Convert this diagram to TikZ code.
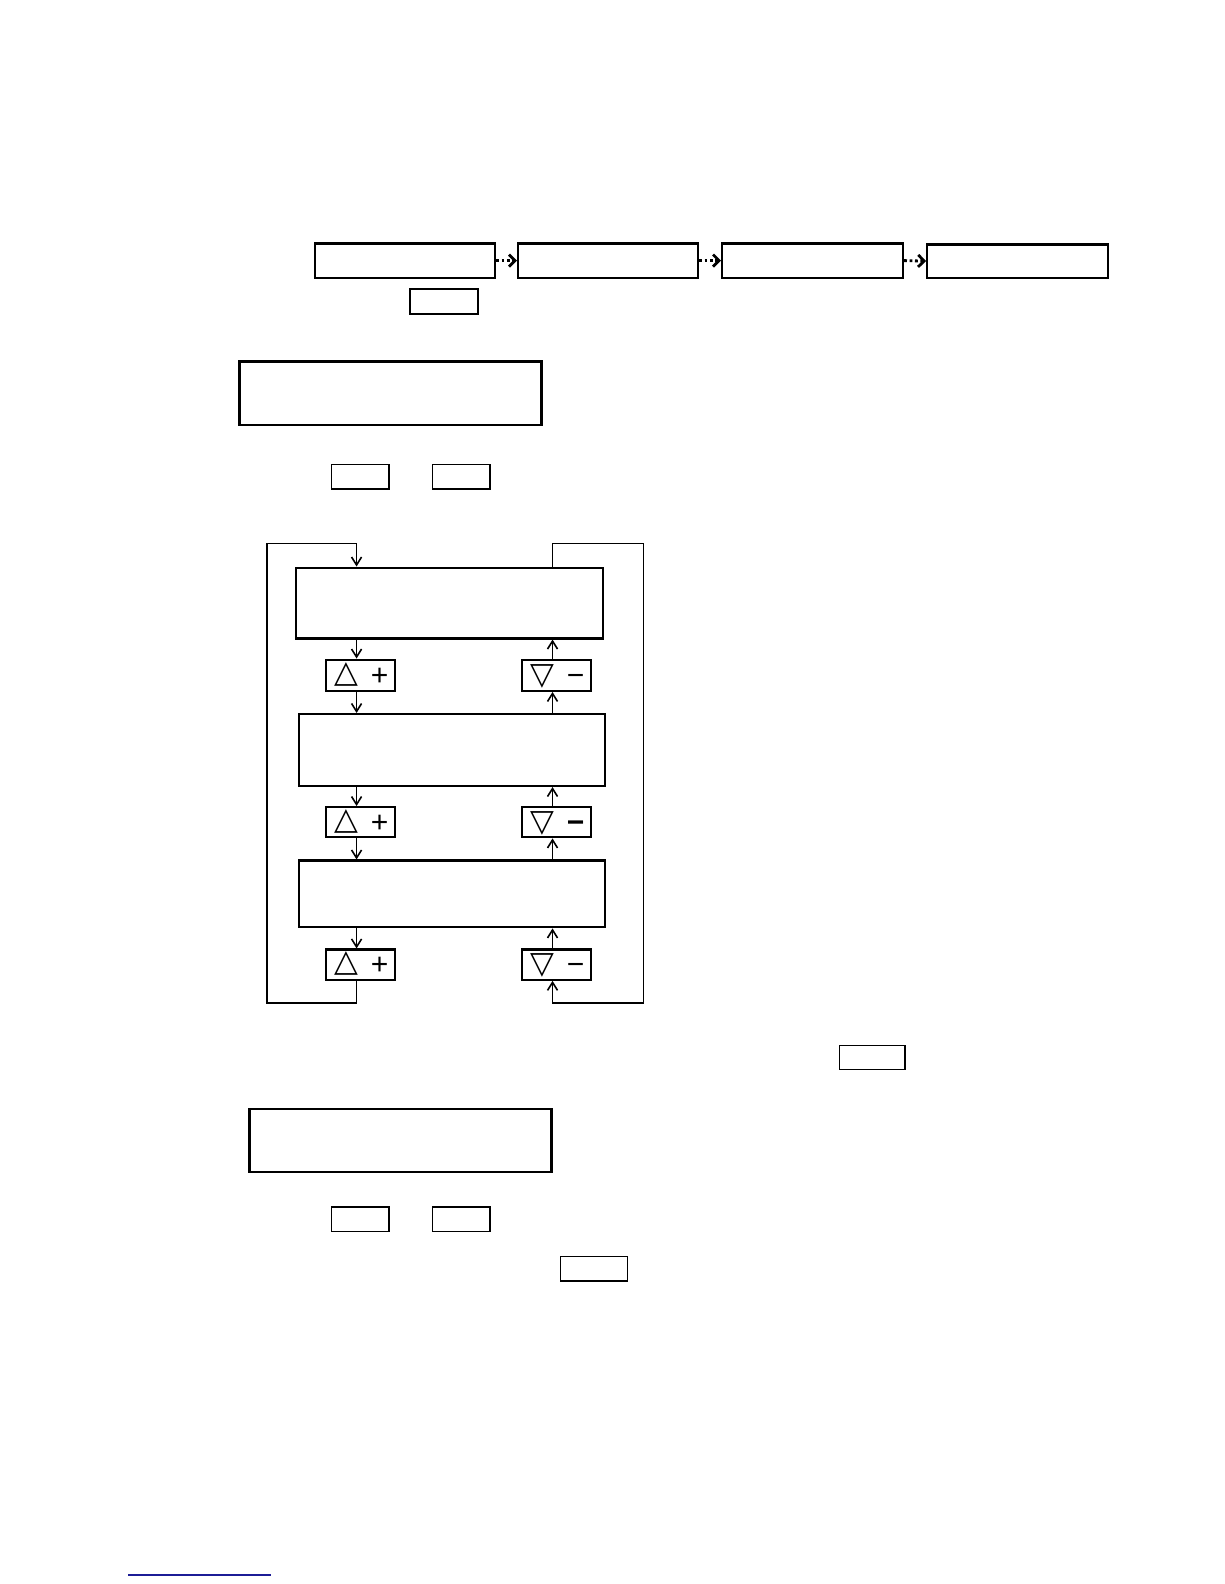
\documentclass[tikz,border=0pt]{standalone}
\usepackage{fontspec}
\newfontfamily\djv{DejaVu Sans}
\newfontfamily\lib{Liberation Sans}
\usetikzlibrary{arrows.meta}
\definecolor{lnk}{RGB}{28,28,150}
\newcommand\bx[6]{\node[#6, minimum width={(#4-#2)*1.0101}, minimum height={(#5-#3)*1.0101}] (#1) at ({(#2+#4)/2},{(#3+#5)/2}) {};}
\begin{document}
\begin{tikzpicture}[x=1.0101pt,y=-1.0101pt,
  thickbox/.style={draw, line width=2.3pt, inner sep=0pt},
  thinbox/.style={draw, line width=1.5pt, inner sep=0pt},
  keybox/.style={draw, line width=2.1pt, inner sep=0pt},
  arr/.style={line width=1.8pt, -{Straight Barb[length=8pt,width=10pt,line width=1.6pt]}},
  dotarr/.style={line width=2.8pt, dash pattern=on 2.8pt off 2.6pt, -{Straight Barb[length=6pt,width=12pt,line width=2.8pt]}},
  tri/.style={font=\djv\fontsize{31}{31}\selectfont, inner sep=0pt},
  sgn/.style={font=\lib\fontsize{30}{30}\selectfont, inner sep=0pt, anchor=base},
  bsgn/.style={font=\lib\bfseries\fontsize{30}{30}\selectfont, inner sep=0pt, anchor=base}]
\useasboundingbox (0,0) rectangle (1211.76,1568.16);
% top row
\bx{t1}{312}{241}{490}{275}{thickbox}
\bx{t2}{513}{241}{691}{275}{thickbox}
\bx{t3}{715}{241}{894}{275}{thickbox}
\bx{t4}{918}{242}{1097}{275}{thickbox}
\draw[dotarr] (t1.east) -- (t2.west);
\draw[dotarr] (t2.east) -- (t3.west);
\draw[dotarr] (t3.east) -- (t4.west);
\bx{s1}{406}{286}{473}{311}{thinbox}
% first display
\bx{d1}{237}{358}{536}{421}{thickbox}
\bx{s2}{328}{460}{385}{484}{thinbox}
\bx{s3}{428}{460}{485}{484}{thinbox}
% loop
\bx{A}{293}{562}{597}{632}{thickbox}
\bx{P1}{323}{653}{391}{684}{keybox}
\bx{M1}{517}{653}{585}{684}{keybox}
\bx{B}{296}{707}{599}{778}{thickbox}
\bx{P2}{323}{799}{391}{829}{keybox}
\bx{M2}{517}{799}{585}{829}{keybox}
\bx{C}{296}{852}{599}{918}{thickbox}
\bx{P3}{323}{940}{391}{970}{keybox}
\bx{M3}{517}{940}{585}{970}{keybox}
\foreach \k in {P1,P2,P3}{
  \node[tri] at ([xshift=-14pt,yshift=1pt]\k.center) {△};
}
\node[sgn] at ([xshift=19pt,yshift=-10pt]P1.center) {+};
\node[sgn] at ([xshift=19pt,yshift=-10pt]P3.center) {+};
\node[sgn] at ([xshift=19pt,yshift=-10pt]P2.center) {+};
\foreach \k in {M1,M2,M3}{
  \node[tri] at ([xshift=-14pt,yshift=-1pt]\k.center) {▽};
}
\node[sgn] at ([xshift=19pt,yshift=-10pt]M1.center) {−};
\node[sgn] at ([xshift=19pt,yshift=-10pt]M3.center) {−};
\node[bsgn] at ([xshift=19pt,yshift=-10pt]M2.center) {−};
\coordinate (xl) at (353,0);
\coordinate (xr) at (547,0);
\coordinate (tl) at (264,538);
\coordinate (tr) at (637,538);
\coordinate (bl) at (264,993);
\coordinate (br) at (637,993);
\draw[arr] (A.south -| xl) -- (P1.north -| xl);
\draw[arr] (P1.south -| xl) -- (B.north -| xl);
\draw[arr] (B.south -| xl) -- (P2.north -| xl);
\draw[arr] (P2.south -| xl) -- (C.north -| xl);
\draw[arr] (C.south -| xl) -- (P3.north -| xl);
\draw[arr] (M1.north -| xr) -- (A.south -| xr);
\draw[arr] (B.north -| xr) -- (M1.south -| xr);
\draw[arr] (M2.north -| xr) -- (B.south -| xr);
\draw[arr] (C.north -| xr) -- (M2.south -| xr);
\draw[arr] (M3.north -| xr) -- (C.south -| xr);
\draw[arr] (P3.south -| xl) -- (bl -| xl) -- (bl) -- (tl) -- (tl -| xl) -- (A.north -| xl);
\draw[arr] (A.north -| xr) -- (tr -| xr) -- (tr) -- (br) -- (br -| xr) -- (M3.south -| xr);
% lower part
\bx{s4}{831}{1035}{896}{1059}{thinbox}
\bx{d2}{247}{1098}{546}{1160}{thickbox}
\bx{s5}{328}{1195}{385}{1219}{thinbox}
\bx{s6}{428}{1195}{485}{1219}{thinbox}
\bx{s7}{555}{1244}{621}{1268}{thinbox}
% footnote rule
\coordinate (f1) at (127,1559);
\coordinate (f2) at (268,1559);
\draw[lnk, line width=1.5pt] (f1) -- (f2);
\end{tikzpicture}
\end{document}
